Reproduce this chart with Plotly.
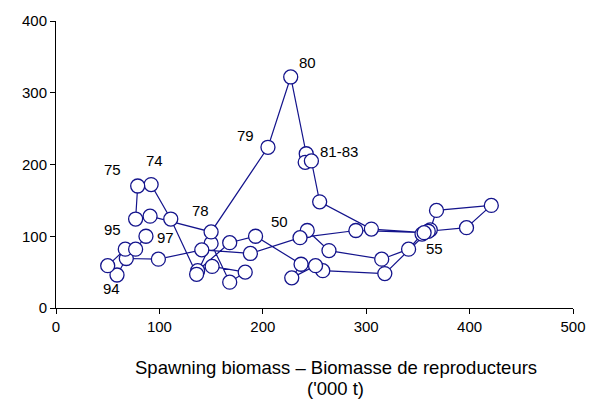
import plotly.graph_objects as go

# Spawning biomass ('000 t) and recruitment, by year (1950-1997)
years = list(range(1950, 1998))
ssb = [243, 264, 315, 341, 354, 362, 368, 421, 397, 360,
       318, 258, 251, 228, 237, 193, 168, 137, 151, 183,
       168, 150, 136, 111, 92, 79, 77, 91, 150, 205,
       227, 242, 241, 247, 255, 305, 356, 290, 236, 188,
       141, 99, 68, 59, 50, 67, 77, 87]
rec = [108, 80, 68, 82, 103, 109, 136, 143, 112, 107,
       48, 52, 59, 42, 61, 100, 91, 52, 58, 50,
       36, 90, 47, 124, 172, 170, 124, 128, 106, 224,
       322, 215, 203, 205, 148, 110, 105, 108, 98, 76,
       81, 68, 69, 46, 59, 82, 82, 100]

label_years = [1950, 1955, 1974, 1975, 1978, 1979, 1980, 1981, 1994, 1995, 1997]
label_texts = ["50", "55", "74", "75", "78", "79", "80", "81-83", "94", "95", "97"]
# pixel offsets of each label from its point (style/position only)
label_shift = [(-28, 9), (4, -19), (3, 24), (-25, 17), (-11, 21), (-22, 12),
               (17, 14), (33, 2), (4, -23), (-13, 20), (20, -1)]

x_title = ["Spawning biomass \u2013 Biomasse de reproducteurs", "('000 t)"]

x_ticks = [0, 100, 200, 300, 400, 500]
y_ticks = [0, 100, 200, 300, 400]

NAVY = "#14148c"
FONT = "Liberation Sans, Arial, sans-serif"

fig = go.Figure()
fig.add_trace(go.Scatter(
    x=ssb, y=rec, mode="lines+markers",
    line=dict(color=NAVY, width=1.2),
    marker=dict(symbol="circle", size=14, color="white",
                line=dict(color=NAVY, width=1.3)),
    cliponaxis=False, hoverinfo="x+y", showlegend=False,
))

annotations = []
for yr, txt, (dx, dy) in zip(label_years, label_texts, label_shift):
    i = years.index(yr)
    annotations.append(dict(
        x=ssb[i], y=rec[i], xref="x", yref="y", text=txt, showarrow=False,
        xshift=dx, yshift=dy, xanchor="center", yanchor="middle",
        font=dict(family=FONT, size=15, color="black"),
    ))
for txt, ypos in zip(x_title, [-0.207, -0.280]):
    annotations.append(dict(
        x=0.541, y=ypos, xref="paper", yref="paper", text=txt,
        showarrow=False, xanchor="center", yanchor="middle",
        font=dict(family=FONT, size=18.5, color="black"),
    ))

fig.update_layout(
    width=598, height=400,
    margin=dict(l=56, r=20, t=19, b=92),
    paper_bgcolor="white", plot_bgcolor="white",
    font=dict(family=FONT, size=15, color="black"),
    annotations=annotations,
    xaxis=dict(range=[0, 500], tickvals=x_ticks, showgrid=False, zeroline=False,
               showline=True, linecolor="black", linewidth=1,
               ticks="outside", ticklen=5, tickcolor="black",
               tickfont=dict(family=FONT, size=15)),
    yaxis=dict(range=[0, 400], tickvals=y_ticks, showgrid=False, zeroline=False,
               showline=True, linecolor="black", linewidth=1,
               ticks="outside", ticklen=5, tickcolor="black",
               tickfont=dict(family=FONT, size=15)),
)

fig.write_html("out.html")
